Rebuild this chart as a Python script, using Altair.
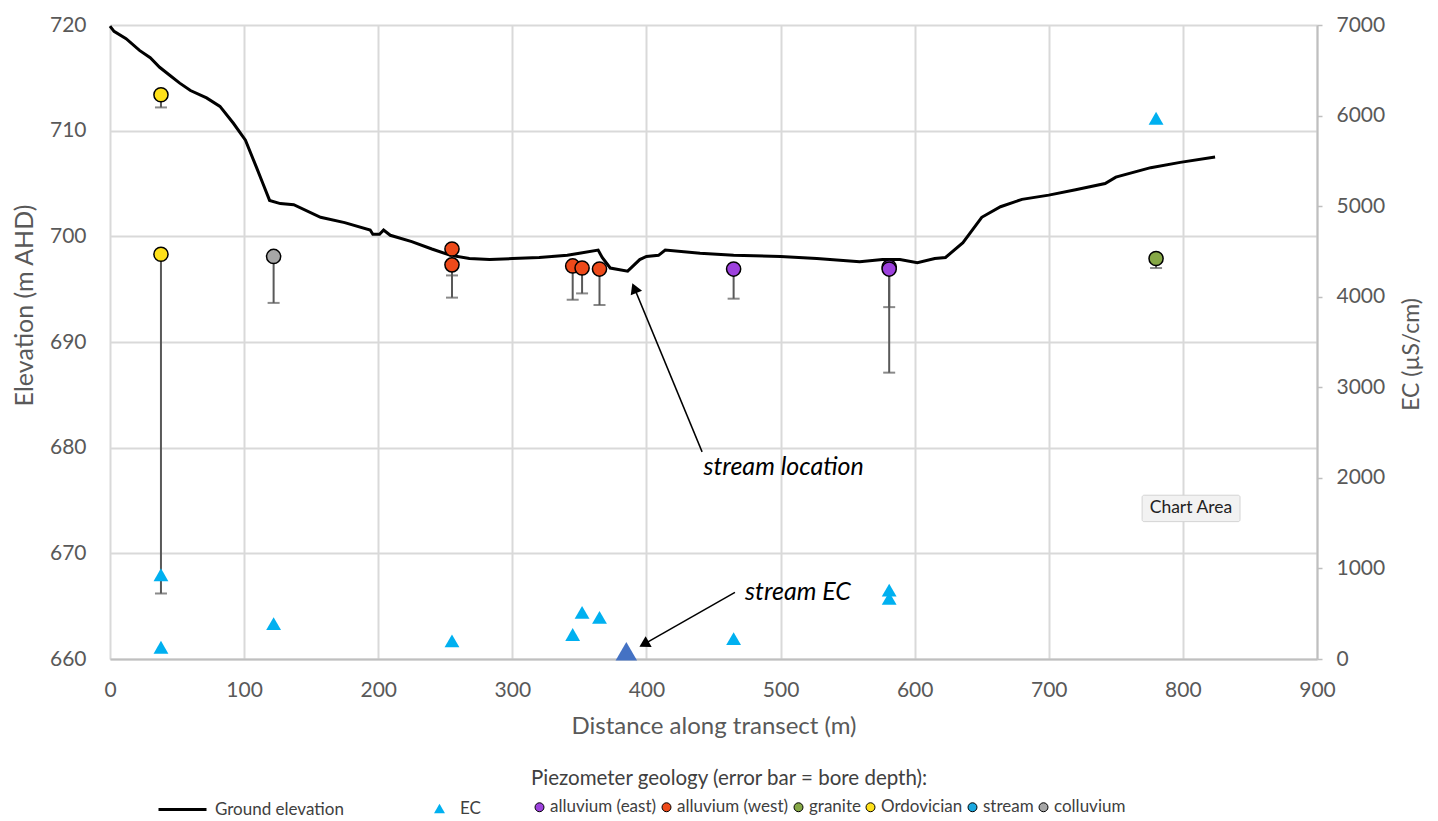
import altair as alt
import pandas as pd

# ---------------- data ----------------
ground_x = [0, 3, 12, 22, 30, 37, 45, 52, 60, 72, 82, 92, 101, 109, 114, 119, 127, 137,
            157, 175, 194, 196, 201, 204, 209, 225, 240, 254, 268, 283, 300, 320, 341,
            364, 367, 373, 386, 395, 400, 409, 414, 440, 465, 500, 527, 559, 576, 589,
            602, 615, 623, 636, 650, 664, 680, 700, 720, 742, 750, 776, 798, 824]
ground_y = [719.9, 719.4, 718.7, 717.6, 716.9, 716.0, 715.2, 714.5, 713.8, 713.1, 712.3,
            710.7, 709.1, 706.6, 705.0, 703.4, 703.1, 703.0, 701.8, 701.3, 700.6, 700.2,
            700.2, 700.6, 700.1, 699.5, 698.8, 698.2, 697.9, 697.8, 697.9, 698.0, 698.2,
            698.7, 698.0, 697.0, 696.7, 697.8, 698.1, 698.2, 698.7, 698.4, 698.2, 698.1,
            697.9, 697.6, 697.8, 697.8, 697.5, 697.9, 698.0, 699.4, 701.8, 702.8, 703.5,
            703.9, 704.4, 705.0, 705.6, 706.5, 707.0, 707.5]

piezo_x = [38, 38, 122, 255, 255, 345, 352, 365, 465, 581, 581, 780]
piezo_elev = [713.4, 698.3, 698.1, 698.8, 697.3, 697.2, 697.0, 696.9, 696.9, 697.1, 696.9, 697.9]
piezo_base = [712.2, 666.2, 693.7, 694.2, 696.3, 694.0, 694.6, 693.5, 694.1, 693.3, 687.1, 697.0]
piezo_geol = ["Ordovician", "Ordovician", "colluvium",
              "alluvium (west)", "alluvium (west)", "alluvium (west)", "alluvium (west)", "alluvium (west)",
              "alluvium (east)", "alluvium (east)", "alluvium (east)", "granite"]

geol_names = ["alluvium (east)", "alluvium (west)", "granite", "Ordovician", "stream", "colluvium"]
geol_colors = ["#9D41DD", "#EE4A1A", "#86A846", "#FFE11A", "#1BA8E0", "#A6A6A6"]

ec_x = [38, 38, 122, 255, 345, 352, 365, 465, 581, 581, 780]
ec_val = [930, 130, 390, 200, 270, 515, 460, 225, 760, 670, 5970]

stream_ec_x = [385]
stream_ec_val = [85]

# annotations (data units on elevation axis)
note_text = ["stream location", "stream EC"]
note_x = [442.5, 473.5]
note_y = [678.2, 666.3]
arrow_x = [441.5, 466.0]
arrow_y = [679.6, 666.3]
arrow_x2 = [391.0, 398.2]
arrow_y2 = [695.1, 661.4]
head_angle = [337.6, 240.4]

tip_text = ["Chart Area"]
tip_x = [806.0]
tip_y = [674.25]
tip_x1 = [769.6]
tip_x2 = [842.6]
tip_y1 = [673.0]
tip_y2 = [675.5]

# ---------------- frames ----------------
ground_df = pd.DataFrame({"x": ground_x, "y": ground_y, "series": "Ground elevation"})
piezo_df = pd.DataFrame({"x": piezo_x, "elev": piezo_elev, "base": piezo_base, "geology": piezo_geol})
ec_df = pd.DataFrame({"x": ec_x, "ec": ec_val, "kind": "EC"})
stream_df = pd.DataFrame({"x": stream_ec_x, "ec": stream_ec_val})
note_df = pd.DataFrame({"text": note_text, "x": note_x, "y": note_y})
arrow_df = pd.DataFrame({"x": arrow_x, "y": arrow_y, "x2": arrow_x2, "y2": arrow_y2, "angle": head_angle})
tip_df = pd.DataFrame({"text": tip_text, "x": tip_x, "y": tip_y, "x1": tip_x1, "x2": tip_x2,
                       "y1": tip_y1, "y2": tip_y2})

FONT = "Lato"
GREY = "#595959"

xscale = alt.Scale(domain=[0, 900], nice=False)
yscale = alt.Scale(domain=[660, 720], nice=False)
ecscale = alt.Scale(domain=[0, 7000], nice=False)

xaxis = alt.Axis(values=list(range(0, 901, 100)), title="Distance along transect (m)",
                 grid=True, gridColor="#D9D9D9", gridWidth=2, ticks=False,
                 domain=True, domainColor="#BFBFBF", domainWidth=2, labelFlush=False,
                 labelPadding=20, titleFontSize=24, titleBaseline="middle", titleY=67)
yaxis = alt.Axis(values=list(range(660, 721, 10)), title="Elevation (m AHD)",
                 grid=True, gridColor="#D9D9D9", gridWidth=2, ticks=False, domain=False,
                 labelPadding=24, titleFontSize=25, titleBaseline="middle",
                 titleX=-86, titleY=280)
ecaxis = alt.Axis(orient="right", values=list(range(0, 7001, 1000)), format="d",
                  title="EC (µS/cm)",
                  grid=False, ticks=True, tickSize=5, tickColor="#BFBFBF", tickWidth=1.5,
                  domain=True, domainColor="#BFBFBF", domainWidth=2,
                  labelPadding=14, titleFontSize=23, titleAngle=270, titleBaseline="middle",
                  titleX=94, titleY=329)

X = alt.X("x:Q", scale=xscale, axis=xaxis)

line = alt.Chart(ground_df).mark_line(strokeWidth=3).encode(
    x=X,
    y=alt.Y("y:Q", scale=yscale, axis=yaxis),
    stroke=alt.Stroke("series:N", scale=alt.Scale(domain=["Ground elevation"], range=["black"]),
                      legend=alt.Legend(orient="none", legendX=47, legendY=759, title=None,
                                        direction="horizontal", symbolType="stroke",
                                        symbolSize=2304, symbolStrokeWidth=3, labelOffset=7,
                                        padding=0)),
)

bars = alt.Chart(piezo_df).mark_rule(color=GREY, strokeWidth=2).encode(
    x=X, y=alt.Y("elev:Q", scale=yscale, axis=yaxis), y2="base:Q")

caps = alt.Chart(piezo_df).mark_tick(color=GREY, thickness=2, size=12, orient="horizontal").encode(
    x=X, y=alt.Y("base:Q", scale=yscale, axis=yaxis))

dots = alt.Chart(piezo_df).mark_circle(size=200, opacity=1, stroke="black", strokeWidth=1.5).encode(
    x=X, y=alt.Y("elev:Q", scale=yscale, axis=yaxis),
    fill=alt.Fill("geology:N", scale=alt.Scale(domain=geol_names, range=geol_colors),
                  legend=alt.Legend(orient="none", legendX=421, legendY=744,
                                    title="Piezometer geology (error bar = bore depth):",
                                    titleLimit=800, titleFontSize=20.5, titleFontWeight="normal",
                                    titleColor="#404040", titlePadding=9,
                                    direction="horizontal", symbolType="circle", symbolSize=80,
                                    symbolStrokeWidth=1, labelOffset=2, columnPadding=1,
                                    padding=0)),
)

arrows = alt.Chart(arrow_df).mark_rule(color="black", strokeWidth=1.5).encode(
    x=X, y=alt.Y("y:Q", scale=yscale, axis=yaxis), x2="x2:Q", y2="y2:Q")

heads = alt.Chart(arrow_df).mark_point(shape="triangle-up", filled=True, color="black",
                                       opacity=1, size=150).encode(
    x=alt.X("x2:Q", scale=xscale, axis=xaxis), y=alt.Y("y2:Q", scale=yscale, axis=yaxis),
    angle=alt.Angle("angle:Q", scale=None))

notes = alt.Chart(note_df).mark_text(font=FONT, fontStyle="italic", fontSize=25, color="black",
                                     align="left", baseline="middle").encode(
    x=X, y=alt.Y("y:Q", scale=yscale, axis=yaxis), text="text:N")

tipbox = alt.Chart(tip_df).mark_rect(fill="#F2F2F2", stroke="#D4D4D4", strokeWidth=1,
                                     cornerRadius=2).encode(
    x=alt.X("x1:Q", scale=xscale, axis=xaxis), x2="x2:Q",
    y=alt.Y("y1:Q", scale=yscale, axis=yaxis), y2="y2:Q")
tiptext = alt.Chart(tip_df).mark_text(font=FONT, fontSize=17.5, color="#222222",
                                      align="center", baseline="middle").encode(
    x=X, y=alt.Y("y:Q", scale=yscale, axis=yaxis), text="text:N")

elev_group = alt.layer(line, bars, caps, dots, arrows, heads, notes, tipbox, tiptext)

ec_pts = alt.Chart(ec_df).mark_point(filled=True, opacity=1, size=220, color="#00B0F0").encode(
    x=X, y=alt.Y("ec:Q", scale=ecscale, axis=ecaxis),
    shape=alt.Shape("kind:N", scale=alt.Scale(domain=["EC"], range=["triangle-up"]),
                    legend=alt.Legend(orient="none", legendX=321, legendY=775, title=None,
                                      direction="horizontal", symbolSize=120,
                                      symbolFillColor="#00B0F0", symbolStrokeColor="#00B0F0",
                                      labelOffset=12, padding=0)),
)
stream_pt = alt.Chart(stream_df).mark_point(shape="triangle-up", filled=True, opacity=1,
                                            size=460, color="#4472C4").encode(
    x=X, y=alt.Y("ec:Q", scale=ecscale, axis=ecaxis))

ec_group = alt.layer(ec_pts, stream_pt)

chart = alt.layer(elev_group, ec_group).resolve_scale(y="independent").properties(
    width=1207, height=634,
    autosize=alt.AutoSizeParams(type="none"),
    padding={"left": 110, "top": 25, "right": 121, "bottom": 162},
    background="white",
).configure_view(stroke=None).configure_axis(
    labelFont=FONT, titleFont=FONT, labelFontSize=21, titleFontSize=22,
    labelColor=GREY, titleColor=GREY, titleFontWeight="normal",
).configure_legend(
    labelFont=FONT, titleFont=FONT, labelFontSize=17, labelColor="#404040",
)

chart.save("out.html", embed_options={"renderer": "svg", "actions": False})
